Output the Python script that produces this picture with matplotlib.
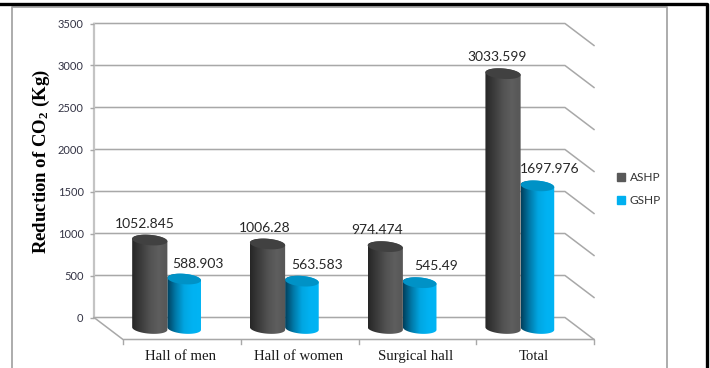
import matplotlib
matplotlib.use('Agg')
import matplotlib.pyplot as plt
import numpy as np
from matplotlib.colors import LinearSegmentedColormap
from matplotlib.lines import Line2D
from matplotlib.patches import Polygon

categories = ['Hall of men', 'Hall of women', 'Surgical hall', 'Total']
ashp = [1052.845, 1006.28, 974.474, 3033.599]
gshp = [588.903, 563.583, 545.49, 1697.976]
ashp_text = ['1052.845', '1006.28', '974.474', '3033.599']
gshp_text = ['588.903', '563.583', '545.49', '1697.976']
y_ticks = [0, 500, 1000, 1500, 2000, 2500, 3000, 3500]

W, H = 710, 368
plt.rcParams['mathtext.default'] = 'regular'

fig = plt.figure(figsize=(W / 100, H / 100), dpi=100)
# back wall of the fake 3d box, everything else hangs off this
ax = fig.add_axes([94 / W, 1 - 317.5 / H, 471 / W, 294 / H])
ax.patch.set_visible(False)
for s in ax.spines.values():
    s.set_visible(False)

px_x = 4 / 471      # one pixel in category units
px_y = 3500 / 294   # one pixel in value units
depth_x = 29 * px_x
depth_y = -22 * px_y
grid_c = '#a8a8a8'


def frame_line(xs, ys, color, lw):
    fig.add_artist(Line2D([x / W for x in xs], [1 - y / H for y in ys], color=color, lw=lw))


frame_line([11.5, 11.5, 666.5, 666.5], [368, 7, 7, 368], '#a6a6a6', 1.3)
frame_line([0, 707, 707], [4, 4, 368], 'black', 2.4)

for t in y_ticks:
    ax.plot([-0.5, 3.5, 3.5 + depth_x], [t, t, t + depth_y], color=grid_c, lw=1.1, clip_on=False, zorder=1)
ax.plot([-0.5, -0.5], [0, 3500], color='#c4c4c4', lw=1.6, clip_on=False, zorder=1)
ax.plot([-0.5, -0.5 + depth_x, 3.5 + depth_x], [0, depth_y, depth_y], color=grid_c, lw=1.1, clip_on=False, zorder=1)
for i in range(5):
    ax.plot([i - 0.5 + depth_x] * 2, [depth_y, depth_y - 4 * px_y], color=grid_c, lw=1, clip_on=False, zorder=1)

cm_dark = LinearSegmentedColormap.from_list('d', ['#262626', '#3c3c3c', '#525252', '#5e5e5e', '#565656'])
cm_blue = LinearSegmentedColormap.from_list('b', ['#003f5c', '#0079a8', '#00a6e2', '#00b2f2', '#00b4f4'])
grad = np.linspace(0, 1, 128).reshape(1, -1)


def cylinder(xc, half, val, cmap, top_color, z):
    base = depth_y / 2
    top = base + val
    b = 5.2 * px_y
    tilt = 1.3 * px_y
    low = np.linspace(0, -np.pi, 60)
    up = np.linspace(np.pi, 0, 60)
    side = np.r_[
        np.c_[xc + half * np.cos(low), base + b * np.sin(low) - tilt * np.cos(low)],
        np.c_[xc + half * np.cos(up), top + b * np.sin(up) - tilt * np.cos(up)],
    ]
    clip = Polygon(side, closed=True, transform=ax.transData, fc='none', ec='none', clip_on=False)
    ax.add_patch(clip)
    im = ax.imshow(grad, cmap=cmap, aspect='auto', zorder=z,
                   extent=[xc - half, xc + half, base - b - tilt, top + b + tilt])
    im.set_clip_path(clip)
    im.set_clip_box(fig.bbox)
    t = np.linspace(0, 2 * np.pi, 120)
    cap = np.c_[xc + half * np.cos(t), top + b * np.sin(t) - tilt * np.cos(t)]
    ax.add_patch(Polygon(cap, closed=True, fc=top_color, ec='none', zorder=z + 0.1, clip_on=False))


half_d = 17.6 * px_x
half_g = 16.8 * px_x
# label offsets from the top of each bar, pixels
ashp_off = [(-5, 16.2), (-2.6, 16.2), (-8, 16.6), (-6.4, 16.8)]
gshp_off = [(14, 15.2), (15.6, 16.4), (16.8, 16.8), (12.5, 17.2)]

for i, cat in enumerate(categories):
    mid = i + depth_x / 2
    xd = mid - half_d
    xg = mid + half_g
    cylinder(xg, half_g, gshp[i], cm_blue, '#0092c6', 3)
    cylinder(xd, half_d, ashp[i], cm_dark, '#414141', 4)
    for x, v, txt, off in [(xd, ashp[i], ashp_text[i], ashp_off[i]), (xg, gshp[i], gshp_text[i], gshp_off[i])]:
        ax.annotate(txt, (x, v + depth_y / 2), xytext=(off[0] * 0.72, off[1] * 0.72), textcoords='offset points',
                    ha='center', va='center', fontsize=10, family='Lato', color='#262626', zorder=6)
    ax.annotate(cat, (i + depth_x, depth_y), xytext=(-1, -17 * 0.72), textcoords='offset points',
                ha='center', va='center', fontsize=10.6, family='Liberation Serif', color='#1a1a1a',
                annotation_clip=False)

ax.set_xlim(-0.5, 3.5)
ax.set_ylim(0, 3500)
ax.set_xticks([])
ax.set_yticks(y_ticks)
ax.set_yticklabels([str(t) for t in y_ticks], family='Lato', fontsize=8, color='#333344')
ax.tick_params(axis='y', length=3, width=1, color=grid_c, pad=4.5)

fig.text(41.5 / W, 1 - 162 / H, 'Reduction of CO$_{2}$ (Kg)', rotation=90, ha='center', va='center',
         family='Liberation Serif', fontweight='bold', fontsize=13.5, color='black')

handles = [Line2D([], [], ls='', marker='s', ms=6, color='#595959'),
           Line2D([], [], ls='', marker='s', ms=6, color='#00b0f0')]
fig.legend(handles, ['ASHP', 'GSHP'], loc='center left', bbox_to_anchor=(610 / W, 1 - 189 / H), frameon=False,
           prop={'family': 'Lato', 'size': 8.6}, labelcolor='#333333', labelspacing=1.05,
           handlelength=0.8, handletextpad=0.35, borderpad=0)

fig.savefig('out.png', dpi=100)
